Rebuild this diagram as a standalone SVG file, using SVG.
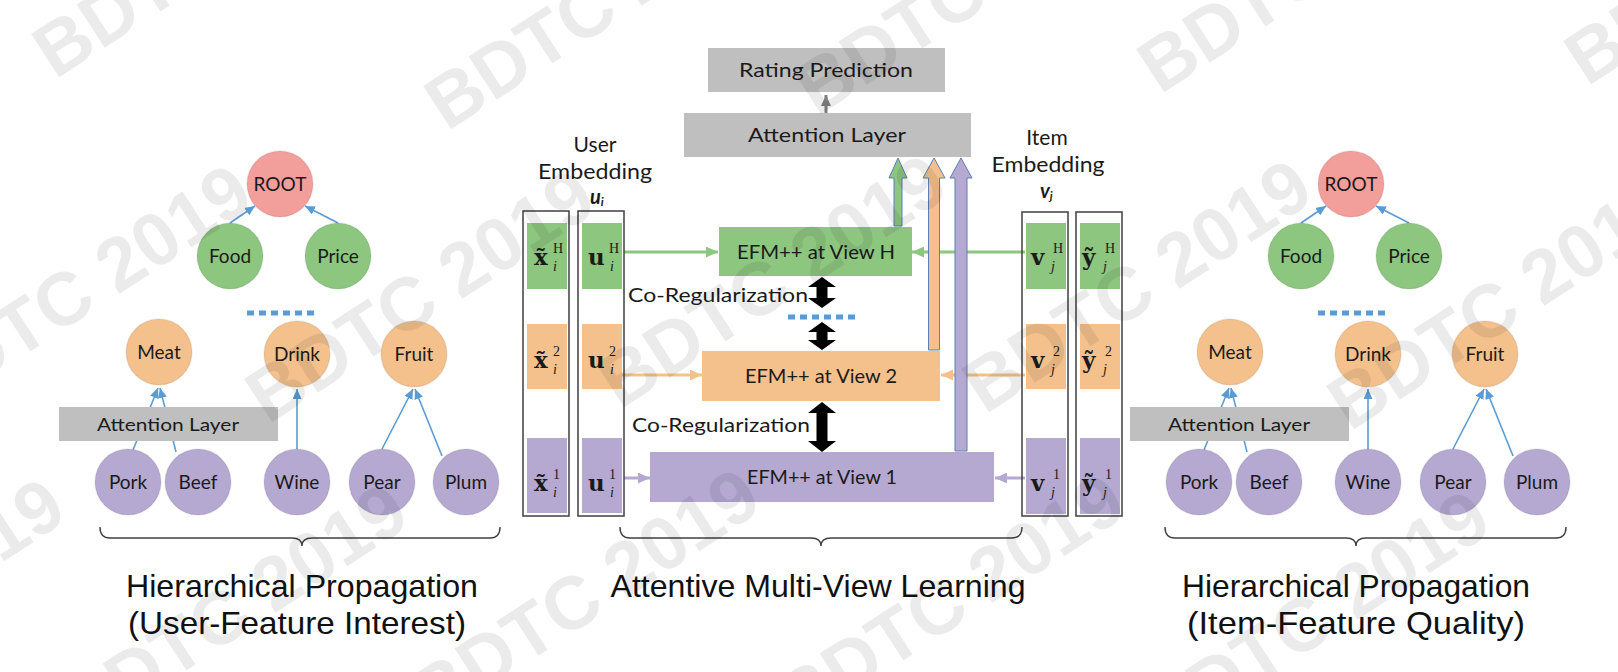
<svg xmlns="http://www.w3.org/2000/svg" width="1618" height="672" viewBox="0 0 1618 672">
<defs>
<style>
.t{font-family:Lato,"Open Sans","Liberation Sans",sans-serif;fill:#1a1a1a}
.n{font-size:19px;text-anchor:middle}
.bx{font-size:20px;text-anchor:middle}
.g{fill:#8cc67f}
.o{fill:#f4c18d}
.p{fill:#b5a9d1}
.r{fill:#f29e9b}
.gr{fill:#bfbfbf}
.c{stroke:#000;stroke-opacity:0.07;stroke-width:1.5}
.e{stroke:#5b9bd5;stroke-width:1.6;fill:none;marker-end:url(#ab)}
.dash{stroke:#5b9bd5;stroke-width:5;stroke-dasharray:7 5;fill:none}
.col{fill:none;stroke:#3f3f3f;stroke-width:1.5}
.m{font-family:"DejaVu Serif",serif;font-weight:bold;font-size:23px;fill:#1a1a1a}
.s{font-family:"Liberation Serif",serif;font-size:14px;fill:#1a1a1a}
.si{font-style:italic}
.br{fill:none;stroke:#404040;stroke-width:1.4}
.lbl{font-family:"Liberation Sans",Arial,sans-serif;font-size:32px;text-anchor:middle;fill:#111}
.blk{stroke:#5b7fb5;stroke-width:1}
.dbl{fill:#000}
</style>
<marker id="ab" markerUnits="userSpaceOnUse" markerWidth="10" markerHeight="9" refX="10" refY="4.5" orient="auto"><path d="M0,0 L10,4.5 L0,9 z" fill="#5b9bd5"/></marker>
<marker id="ag" markerUnits="userSpaceOnUse" markerWidth="12" markerHeight="11" refX="12" refY="5.5" orient="auto"><path d="M0,0 L12,5.5 L0,11 z" fill="#8cc67f"/></marker>
<marker id="ao" markerUnits="userSpaceOnUse" markerWidth="12" markerHeight="11" refX="12" refY="5.5" orient="auto"><path d="M0,0 L12,5.5 L0,11 z" fill="#f4c18d"/></marker>
<marker id="ap" markerUnits="userSpaceOnUse" markerWidth="12" markerHeight="11" refX="12" refY="5.5" orient="auto"><path d="M0,0 L12,5.5 L0,11 z" fill="#b5a9d1"/></marker>
<marker id="agr" markerUnits="userSpaceOnUse" markerWidth="11" markerHeight="10" refX="11" refY="5" orient="auto"><path d="M0,0 L11,5 L0,10 z" fill="#7f7f7f"/></marker>
</defs>
<rect width="1618" height="672" fill="#fff"/>

<g id="connectors">
  <path class="e" d="M230,223 L255,206"/>
  <path class="e" d="M338,223 L305,206"/>
  <path class="e" d="M133,450 L158,388"/>
  <path class="e" d="M176,452 L160,388"/>
  <path class="e" d="M297,449 L297,389"/>
  <path class="e" d="M382,449 L413,389"/>
  <path class="e" d="M442,456 L415,389"/>
  <path class="dash" d="M247,313 H315"/>
  <path class="e" d="M1301,223 L1326,206"/>
  <path class="e" d="M1409,223 L1376,206"/>
  <path class="e" d="M1204,450 L1229,388"/>
  <path class="e" d="M1247,452 L1231,388"/>
  <path class="e" d="M1368,449 L1368,389"/>
  <path class="e" d="M1453,449 L1484,389"/>
  <path class="e" d="M1513,456 L1486,389"/>
  <path class="dash" d="M1318,313 H1386"/>
  <path d="M826,113 L826,95" stroke="#7f7f7f" stroke-width="3" fill="none" marker-end="url(#agr)"/>
  <path d="M624,252 L718,252" stroke="#8cc67f" stroke-width="3" fill="none" marker-end="url(#ag)"/>
  <path d="M1025,252 L912,252" stroke="#8cc67f" stroke-width="3" fill="none" marker-end="url(#ag)"/>
  <path d="M622,375 L702,375" stroke="#f4c18d" stroke-width="3" fill="none" marker-end="url(#ao)"/>
  <path d="M1025,375 L941,375" stroke="#f4c18d" stroke-width="3" fill="none" marker-end="url(#ao)"/>
  <path d="M624,478 L650,478" stroke="#b5a9d1" stroke-width="3" fill="none" marker-end="url(#ap)"/>
  <path d="M1025,478 L995,478" stroke="#b5a9d1" stroke-width="3" fill="none" marker-end="url(#ap)"/>
  <polygon class="g blk" points="894,226 894,178 889,178 898,158 907,178 902,178 902,226"/>
  <polygon class="o blk" points="928.5,350 928.5,178 923,178 934,158 945,178 939.5,178 939.5,350"/>
  <polygon class="p blk" points="955,451 955,178 950,178 961,158 972,178 967,178 967,451"/>
  <polygon class="dbl" points="822,277 836,287 827.5,287 827.5,298 836,298 822,308 808,298 816.5,298 816.5,287 808,287"/>
  <polygon class="dbl" points="822,322 836,332 827.5,332 827.5,340 836,340 822,350 808,340 816.5,340 816.5,332 808,332"/>
  <polygon class="dbl" points="822,402 836,413 827.5,413 827.5,441 836,441 822,452 808,441 816.5,441 816.5,413 808,413"/>
  <path class="dash" d="M788,317 H856"/>
  <path class="br" d="M100,527 Q100,538 110,538 L292,538 Q302,538 302,546 Q302,538 312,538 L490,538 Q500,538 500,527"/>
  <path class="br" d="M620,527 Q620,538 630,538 L811,538 Q821,538 821,546 Q821,538 831,538 L1012,538 Q1022,538 1022,527"/>
  <path class="br" d="M1165,527 Q1165,538 1175,538 L1346,538 Q1356,538 1356,546 Q1356,538 1366,538 L1556,538 Q1566,538 1566,527"/>
</g>

<g id="l-root"><circle class="r c" cx="280" cy="184" r="33"/><text class="t n" x="280" y="191">ROOT</text></g>
<g id="l-food"><circle class="g c" cx="230" cy="256" r="33"/><text class="t n" x="230" y="263">Food</text></g>
<g id="l-price"><circle class="g c" cx="338" cy="256" r="33"/><text class="t n" x="338" y="263">Price</text></g>
<g id="l-meat"><circle class="o c" cx="159" cy="352" r="33"/><text class="t n" x="159" y="359">Meat</text></g>
<g id="l-drink"><circle class="o c" cx="297" cy="354" r="33"/><text class="t n" x="297" y="361">Drink</text></g>
<g id="l-fruit"><circle class="o c" cx="414" cy="354" r="33"/><text class="t n" x="414" y="361">Fruit</text></g>
<g id="l-attn"><rect class="gr" x="59" y="407" width="219" height="34"/><text class="t" x="168" y="431" font-size="18" text-anchor="middle" textLength="142" lengthAdjust="spacingAndGlyphs">Attention Layer</text></g>
<g id="l-pork"><circle class="p c" cx="128" cy="482" r="33"/><text class="t n" x="128" y="489">Pork</text></g>
<g id="l-beef"><circle class="p c" cx="198" cy="482" r="33"/><text class="t n" x="198" y="489">Beef</text></g>
<g id="l-wine"><circle class="p c" cx="297" cy="482" r="33"/><text class="t n" x="297" y="489">Wine</text></g>
<g id="l-pear"><circle class="p c" cx="382" cy="482" r="33"/><text class="t n" x="382" y="489">Pear</text></g>
<g id="l-plum"><circle class="p c" cx="466" cy="482" r="33"/><text class="t n" x="466" y="489">Plum</text></g>

<g id="r-root"><circle class="r c" cx="1351" cy="184" r="33"/><text class="t n" x="1351" y="191">ROOT</text></g>
<g id="r-food"><circle class="g c" cx="1301" cy="256" r="33"/><text class="t n" x="1301" y="263">Food</text></g>
<g id="r-price"><circle class="g c" cx="1409" cy="256" r="33"/><text class="t n" x="1409" y="263">Price</text></g>
<g id="r-meat"><circle class="o c" cx="1230" cy="352" r="33"/><text class="t n" x="1230" y="359">Meat</text></g>
<g id="r-drink"><circle class="o c" cx="1368" cy="354" r="33"/><text class="t n" x="1368" y="361">Drink</text></g>
<g id="r-fruit"><circle class="o c" cx="1485" cy="354" r="33"/><text class="t n" x="1485" y="361">Fruit</text></g>
<g id="r-attn"><rect class="gr" x="1130" y="407" width="219" height="34"/><text class="t" x="1239" y="431" font-size="18" text-anchor="middle" textLength="142" lengthAdjust="spacingAndGlyphs">Attention Layer</text></g>
<g id="r-pork"><circle class="p c" cx="1199" cy="482" r="33"/><text class="t n" x="1199" y="489">Pork</text></g>
<g id="r-beef"><circle class="p c" cx="1269" cy="482" r="33"/><text class="t n" x="1269" y="489">Beef</text></g>
<g id="r-wine"><circle class="p c" cx="1368" cy="482" r="33"/><text class="t n" x="1368" y="489">Wine</text></g>
<g id="r-pear"><circle class="p c" cx="1453" cy="482" r="33"/><text class="t n" x="1453" y="489">Pear</text></g>
<g id="r-plum"><circle class="p c" cx="1537" cy="482" r="33"/><text class="t n" x="1537" y="489">Plum</text></g>

<g id="rating"><rect class="gr" x="708" y="48" width="237" height="44"/><text class="t bx" x="826" y="77" textLength="174" lengthAdjust="spacingAndGlyphs">Rating Prediction</text></g>
<g id="attention"><rect class="gr" x="684" y="113" width="287" height="44"/><text class="t bx" x="827" y="142" textLength="158" lengthAdjust="spacingAndGlyphs">Attention Layer</text></g>
<g id="view-h"><rect class="g" x="719" y="227" width="193" height="49"/><text class="t bx" x="816" y="259" textLength="158" lengthAdjust="spacingAndGlyphs">EFM++ at View H</text></g>
<g id="view-2"><rect class="o" x="702" y="351" width="238" height="50"/><text class="t bx" x="821" y="383" textLength="152" lengthAdjust="spacingAndGlyphs">EFM++ at View 2</text></g>
<g id="view-1"><rect class="p" x="650" y="452" width="344" height="50"/><text class="t bx" x="822" y="484" textLength="150" lengthAdjust="spacingAndGlyphs">EFM++ at View 1</text></g>
<g id="coreg"><text class="t" x="628" y="302" font-size="20" textLength="180" lengthAdjust="spacingAndGlyphs">Co-Regularization</text><text class="t" x="632" y="432" font-size="20" textLength="178" lengthAdjust="spacingAndGlyphs">Co-Regularization</text></g>

<g id="user-emb">
  <text class="t" x="595" y="152" font-size="21" text-anchor="middle">User</text>
  <text class="t" x="595" y="179" font-size="21" text-anchor="middle" textLength="114" lengthAdjust="spacingAndGlyphs">Embedding</text>
  <text class="t" x="590" y="204" font-size="20" font-weight="bold" font-style="italic">u<tspan font-size="12" dy="2">i</tspan></text>
  <rect class="col" x="523" y="211" width="46" height="305"/>
  <rect class="g" x="527" y="223" width="40" height="66"/>
  <rect class="o" x="527" y="324" width="40" height="65"/>
  <rect class="p" x="527" y="438" width="40" height="75"/>
  <rect class="col" x="578" y="211" width="46" height="305"/>
  <rect class="g" x="582" y="223" width="40" height="66"/>
  <rect class="o" x="582" y="324" width="40" height="65"/>
  <rect class="p" x="582" y="438" width="40" height="75"/>
  <text class="m" x="534" y="265">x̃</text><text class="s" x="553" y="253">H</text><text class="s si" x="553" y="271">i</text>
  <text class="m" x="534" y="368">x̃</text><text class="s" x="553" y="356">2</text><text class="s si" x="553" y="374">i</text>
  <text class="m" x="534" y="491">x̃</text><text class="s" x="553" y="479">1</text><text class="s si" x="553" y="497">i</text>
  <text class="m" x="588" y="265">u</text><text class="s" x="609" y="253">H</text><text class="s si" x="610" y="271">i</text>
  <text class="m" x="588" y="368">u</text><text class="s" x="609" y="356">2</text><text class="s si" x="610" y="374">i</text>
  <text class="m" x="588" y="491">u</text><text class="s" x="609" y="479">1</text><text class="s si" x="610" y="497">i</text>
</g>

<g id="item-emb">
  <text class="t" x="1047" y="145" font-size="21" text-anchor="middle">Item</text>
  <text class="t" x="1048" y="172" font-size="21" text-anchor="middle" textLength="113" lengthAdjust="spacingAndGlyphs">Embedding</text>
  <text class="t" x="1040" y="198" font-size="20" font-weight="bold" font-style="italic">v<tspan font-size="12" dy="2">j</tspan></text>
  <rect class="col" x="1022" y="212" width="46" height="304"/>
  <rect class="g" x="1026" y="223" width="40" height="66"/>
  <rect class="o" x="1026" y="324" width="40" height="65"/>
  <rect class="p" x="1026" y="438" width="40" height="76"/>
  <rect class="col" x="1076" y="212" width="46" height="304"/>
  <rect class="g" x="1080" y="223" width="40" height="66"/>
  <rect class="o" x="1080" y="324" width="40" height="65"/>
  <rect class="p" x="1080" y="438" width="40" height="76"/>
  <text class="m" x="1031" y="265">v</text><text class="s" x="1053" y="253">H</text><text class="s si" x="1051" y="271">j</text>
  <text class="m" x="1031" y="368">v</text><text class="s" x="1053" y="356">2</text><text class="s si" x="1051" y="374">j</text>
  <text class="m" x="1031" y="491">v</text><text class="s" x="1053" y="479">1</text><text class="s si" x="1051" y="497">j</text>
  <text class="m" x="1082" y="265">ỹ</text><text class="s" x="1105" y="253">H</text><text class="s si" x="1103" y="271">j</text>
  <text class="m" x="1082" y="368">ỹ</text><text class="s" x="1105" y="356">2</text><text class="s si" x="1103" y="374">j</text>
  <text class="m" x="1082" y="491">ỹ</text><text class="s" x="1105" y="479">1</text><text class="s si" x="1103" y="497">j</text>
</g>

<g id="captions">
  <text class="lbl" x="302" y="597" textLength="352" lengthAdjust="spacingAndGlyphs">Hierarchical Propagation</text>
  <text class="lbl" x="297" y="634" textLength="338" lengthAdjust="spacingAndGlyphs">(User-Feature Interest)</text>
  <text class="lbl" x="818" y="597" textLength="415" lengthAdjust="spacingAndGlyphs">Attentive Multi-View Learning</text>
  <text class="lbl" x="1356" y="597" textLength="348" lengthAdjust="spacingAndGlyphs">Hierarchical Propagation</text>
  <text class="lbl" x="1356" y="634" textLength="338" lengthAdjust="spacingAndGlyphs">(Item-Feature Quality)</text>
</g>

<g id="watermark" font-family="Liberation Sans, sans-serif" font-weight="bold" font-size="75" fill="#000" fill-opacity="0.08">
  <text transform="translate(55,80) rotate(-33)">BDTC 2019</text>
  <text transform="translate(447,132) rotate(-33)">BDTC 2019</text>
  <text transform="translate(817,117) rotate(-33)">BDTC 2019</text>
  <text transform="translate(1160,95) rotate(-33)">BDTC 2019</text>
  <text transform="translate(1587,87) rotate(-33)">BDTC 2019</text>
  <text transform="translate(-75,420) rotate(-33)">BDTC 2019</text>
  <text transform="translate(268,425) rotate(-33)">BDTC 2019</text>
  <text transform="translate(620,410) rotate(-33)">BDTC 2019</text>
  <text transform="translate(985,415) rotate(-33)">BDTC 2019</text>
  <text transform="translate(1350,432) rotate(-33)">BDTC 2019</text>
  <text transform="translate(-262,734) rotate(-33)">BDTC 2019</text>
  <text transform="translate(81,739) rotate(-33)">BDTC 2019</text>
  <text transform="translate(433,724) rotate(-33)">BDTC 2019</text>
  <text transform="translate(798,729) rotate(-33)">BDTC 2019</text>
  <text transform="translate(1163,746) rotate(-33)">BDTC 2019</text>
</g>
</svg>
